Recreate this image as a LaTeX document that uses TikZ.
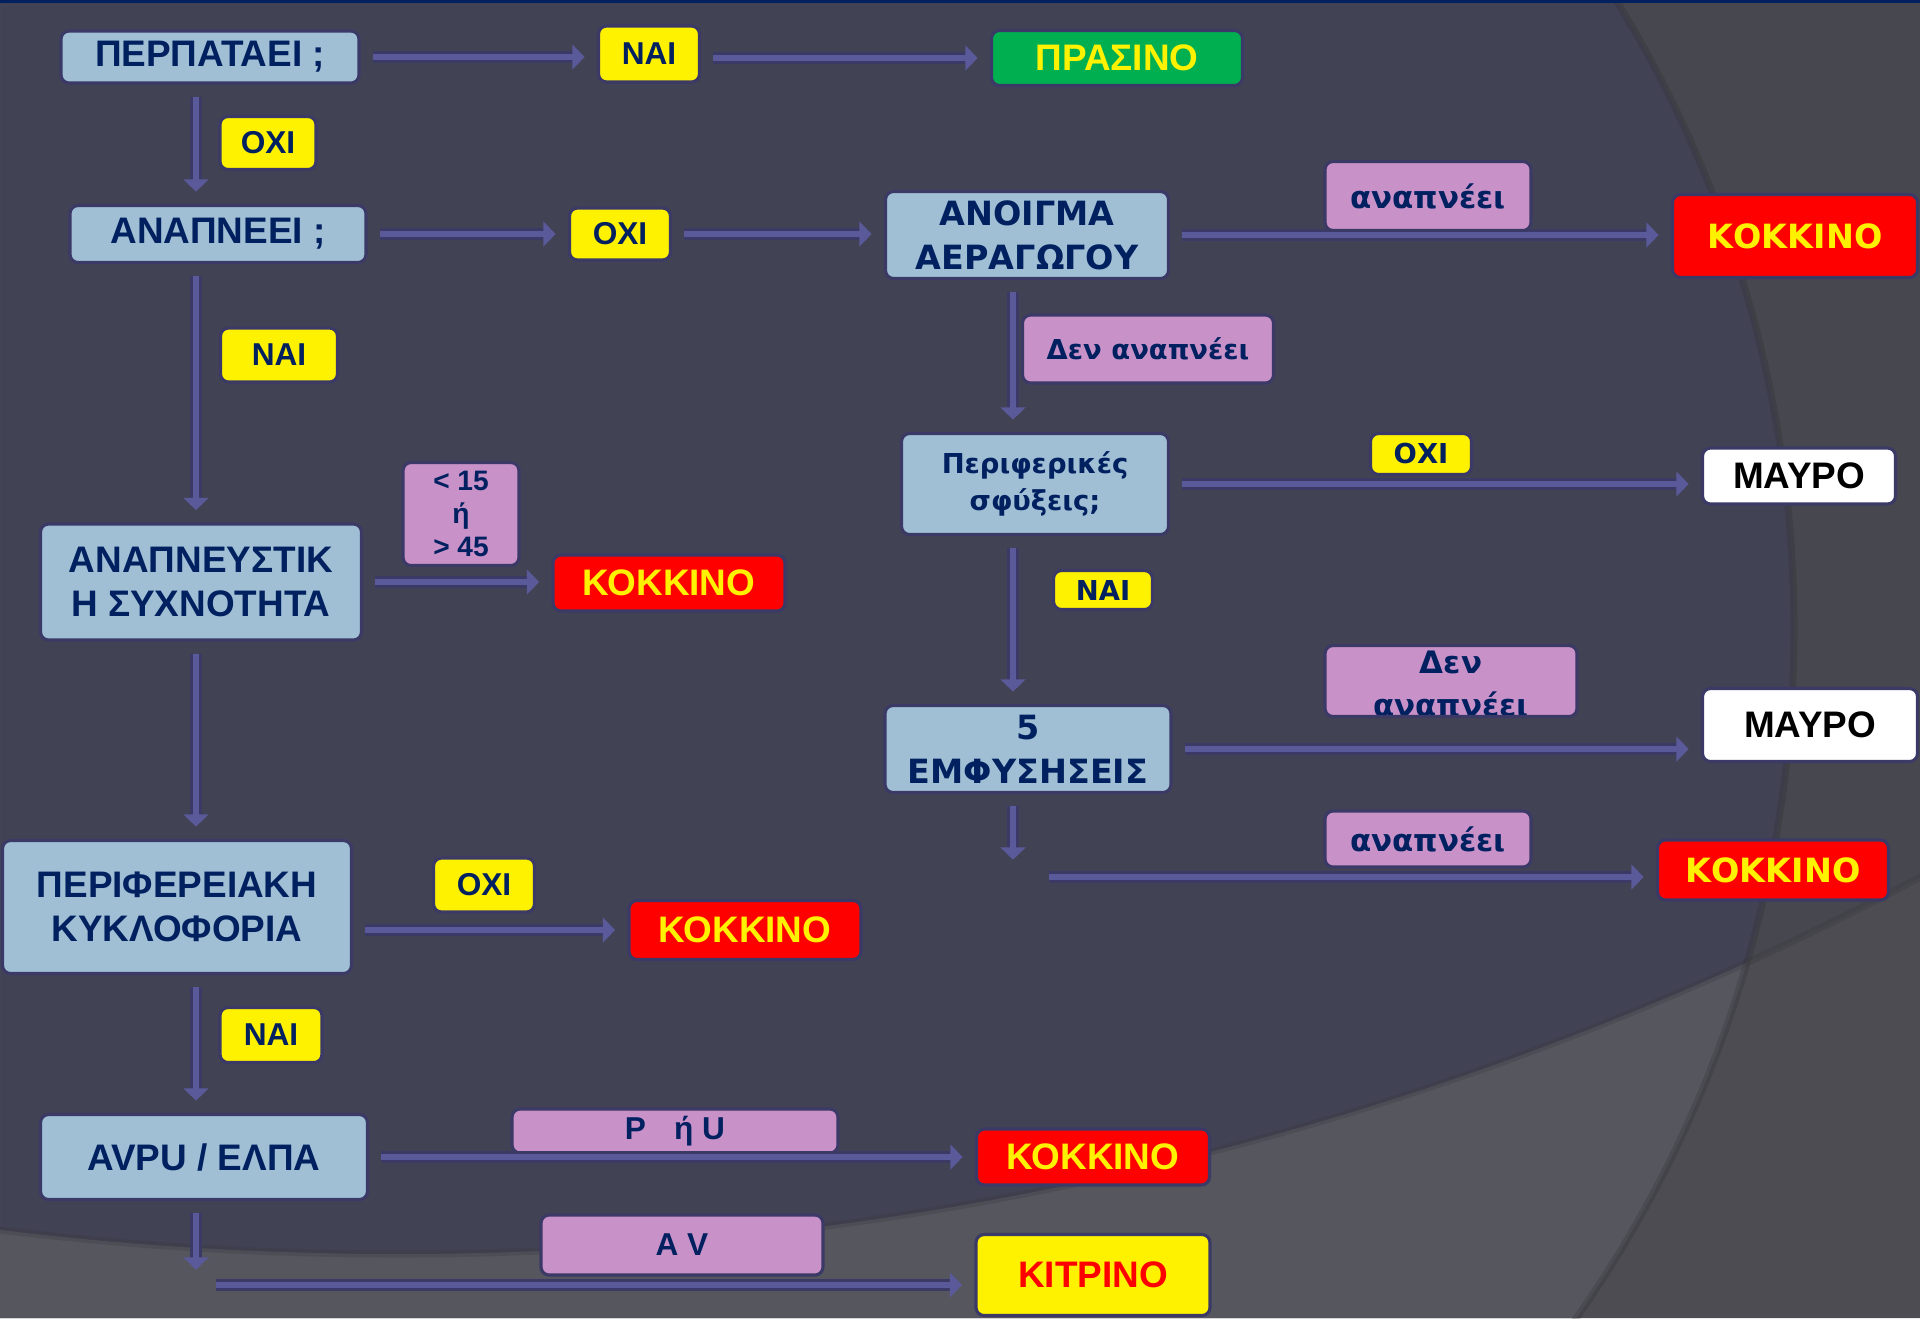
\documentclass[tikz,border=0pt]{standalone}
\usepackage{fontspec}
\setmainfont{Liberation Sans}
\newfontfamily\vfont{DejaVu Sans}
\usetikzlibrary{arrows.meta}

\definecolor{navy}{HTML}{002060}
\definecolor{qblue}{HTML}{A0BFD5}
\definecolor{pinkc}{HTML}{C891C8}
\definecolor{rim}{HTML}{3B3A66}
\definecolor{linec}{HTML}{5A5A9A}
\definecolor{bgin}{HTML}{424255}
\definecolor{bgout}{HTML}{47474F}
\definecolor{bglow}{HTML}{56565F}
\definecolor{bglowout}{HTML}{4C4C52}
\definecolor{grn}{HTML}{00B050}

\newcommand\lbig{\fontsize{10.5}{12.7}\selectfont\bfseries}
\newcommand\lsmall{\fontsize{9}{11}\selectfont\bfseries}
\newcommand\lrate{\fontsize{8}{9.4}\selectfont\bfseries}
\newcommand\vbig{\vfont\fontsize{9.5}{12.5}\selectfont\bfseries}
\newcommand\vmid{\vfont\fontsize{7.8}{10.5}\selectfont\bfseries}
\newcommand\vsmall{\vfont\fontsize{8.8}{12.2}\selectfont\bfseries}
\newcommand\vtiny{\vfont\fontsize{7.8}{9}\selectfont\bfseries}

\begin{document}
\begin{tikzpicture}[x=1cm, y=-1cm,
  box/.style={draw=rim, line width=0.9pt, rounded corners=0.08cm, inner sep=0pt, align=center, text=navy},
  sz/.style 2 args={minimum width=#1cm, minimum height=#2cm},
  qbox/.style={box, fill=qblue, font=\lbig},
  rqbox/.style={box, fill=qblue, font=\vbig},
  yes/.style={box, fill=yellow, font=\lsmall},
  ryes/.style={box, fill=yellow, font=\vtiny},
  cond/.style={box, fill=pinkc, font=\vsmall},
  redres/.style={box, fill=red, text=yellow, font=\lbig},
  rredres/.style={box, fill=red, text=yellow, font=\vbig},
  blackres/.style={box, fill=white, text=black, font=\lbig},
  arr/.style={draw=linec, line width=1.5pt, shorten <=3.5pt, shorten >=3.5pt,
    -{Triangle[length=3.5pt,width=7pt]},
    preaction={draw=rim, line width=3.2pt, -, shorten >=5.5pt}}]
  \useasboundingbox (0,0) rectangle (19.2,13.18);
  \fill[bgout] (0,0) rectangle (19.2,13.18);
  \fill[bglowout, even odd rule] (0,0) rectangle (19.2,13.18) (3.98,-20.04) circle (32.58);
  \begin{scope}
    \clip (5.95,6.29) circle (11.99);
    \fill[bgin] (0,0) rectangle (19.2,13.18);
    \fill[bglow, even odd rule] (0,0) rectangle (19.2,13.18) (3.98,-20.04) circle (32.58);
  \end{scope}
  \draw[black!40!bgout, line width=2pt, opacity=0.25] (5.95,6.29) circle (11.99);
  \draw[black!40!bglow, line width=2pt, opacity=0.25] (3.98,-20.04) circle (32.58);
  \draw[navy, line width=1pt] (0,0.01) -- (19.2,0.01);

  \coordinate (lcol) at (1.96,0);
  \coordinate (rcol) at (10.13,0);
  \coordinate (avdown) at (1.96,12.82);
  \coordinate (avturn) at (2.04,12.85);
  \coordinate (emfdown) at (10.13,8.72);
  \coordinate (emfturn) at (10.37,8.77);

  \node[qbox, sz={2.98}{0.52}] (perpat) at (2.10,0.57) {ΠΕΡΠΑΤΑΕΙ ;};
  \node[qbox, sz={2.96}{0.57}] (anapnei) at (2.18,2.34) {ΑΝΑΠΝΕΕΙ ;};
  \node[qbox, sz={3.21}{1.16}] (syxn) at (2.01,5.82) {ΑΝΑΠΝΕΥΣΤΙΚ\\Η ΣΥΧΝΟΤΗΤΑ};
  \node[qbox, sz={3.49}{1.33}] (perif) at (1.77,9.07) {ΠΕΡΙΦΕΡΕΙΑΚΗ\\ΚΥΚΛΟΦΟΡΙΑ};
  \node[qbox, sz={3.27}{0.85}] (avpu) at (2.04,11.57) {AVPU / ΕΛΠΑ};
  \node[rqbox, sz={2.83}{0.87}] (anoigma) at (10.27,2.35) {ΑΝΟΙΓΜΑ\\ΑΕΡΑΓΩΓΟΥ};
  \node[rqbox, sz={2.67}{1.01}, font=\vmid] (sfyx) at (10.35,4.84) {Περιφερικές\\σφύξεις;};
  \node[rqbox, sz={2.86}{0.87}] (emf) at (10.28,7.49) {5\\ΕΜΦΥΣΗΣΕΙΣ};

  \node[yes, sz={1.01}{0.56}] (naiA) at (6.49,0.54) {ΝΑΙ};
  \node[yes, sz={0.96}{0.53}] (oxiA) at (2.68,1.43) {ΟΧΙ};
  \node[yes, sz={1.01}{0.52}] (oxiB) at (6.20,2.34) {ΟΧΙ};
  \node[yes, sz={1.17}{0.54}] (naiB) at (2.79,3.55) {ΝΑΙ};
  \node[ryes, sz={1.01}{0.41}] (oxiC) at (14.21,4.54) {ΟΧΙ};
  \node[ryes, sz={0.99}{0.39}] (naiC) at (11.03,5.90) {ΝΑΙ};
  \node[yes, sz={1.01}{0.54}] (oxiD) at (4.84,8.85) {ΟΧΙ};
  \node[yes, sz={1.02}{0.55}] (naiD) at (2.71,10.35) {ΝΑΙ};

  \node[cond, sz={2.06}{0.69}] (anapA) at (14.28,1.96) {αναπνέει};
  \node[cond, sz={2.51}{0.68}, font=\vmid] (denA) at (11.48,3.49) {Δεν αναπνέει};
  \node[cond, sz={1.16}{1.03}, font=\lrate] (rate) at (4.61,5.14) {< 15\\ή\\> 45};
  \node[cond, sz={2.52}{0.71}, path picture={
    \node[font=\vsmall, text=navy, align=center] at ([yshift=-0.03cm]path picture bounding box.center) {Δεν\\αναπνέει};}] (denB) at (14.51,6.81) {};
  \node[cond, sz={2.06}{0.56}] (anapB) at (14.28,8.39) {αναπνέει};
  \node[cond, sz={3.26}{0.44}, font=\lsmall] (pu) at (6.75,11.31) {P\hspace{0.28cm}ή U};
  \node[cond, sz={2.82}{0.60}, font=\lsmall] (av) at (6.82,12.45) {A V};

  \node[box, fill=grn, text=yellow, font=\lbig, sz={2.51}{0.55}] (prasino) at (11.17,0.58) {ΠΡΑΣΙΝΟ};
  \node[rredres, sz={2.45}{0.83}] (kokA) at (17.95,2.36) {ΚΟΚΚΙΝΟ};
  \node[redres, sz={2.32}{0.56}] (kokB) at (6.69,5.83) {ΚΟΚΚΙΝΟ};
  \node[blackres, sz={1.93}{0.56}] (mavroA) at (17.99,4.76) {ΜΑΥΡΟ};
  \node[blackres, sz={2.15}{0.73}] (mavroB) at (18.10,7.25) {ΜΑΥΡΟ};
  \node[rredres, sz={2.31}{0.60}] (kokC) at (17.73,8.70) {ΚΟΚΚΙΝΟ};
  \node[redres, sz={2.32}{0.59}] (kokD) at (7.45,9.30) {ΚΟΚΚΙΝΟ};
  \node[redres, sz={2.33}{0.56}] (kokE) at (10.93,11.57) {ΚΟΚΚΙΝΟ};
  \node[box, fill=yellow, text=red, font=\lbig, sz={2.34}{0.81}] (kitrino) at (10.93,12.75) {ΚΙΤΡΙΝΟ};

  \draw[arr] (perpat.east) -- (perpat.east -| naiA.west);
  \draw[arr] (prasino.west -| naiA.east) -- (prasino.west);
  \draw[arr] (perpat.south -| lcol) -- (anapnei.north -| lcol);
  \draw[arr] (anapnei.east) -- (anapnei.east -| oxiB.west);
  \draw[arr] (oxiB.east) -- (oxiB.east -| anoigma.west);
  \draw[arr] (anapnei.south -| lcol) -- (syxn.north -| lcol);
  \draw[arr] (syxn.east) -- (syxn.east -| kokB.west);
  \draw[arr] (syxn.south -| lcol) -- (perif.north -| lcol);
  \draw[arr] (kokD.west -| perif.east) -- (kokD.west);
  \draw[arr] (perif.south -| lcol) -- (avpu.north -| lcol);
  \draw[arr] (avpu.east) -- (avpu.east -| kokE.west);
  \draw[arr] (avpu.south -| lcol) -- (avdown);
  \draw[arr] (avturn) -- (avturn -| kitrino.west);
  \draw[arr] (anoigma.east) -- (anoigma.east -| kokA.west);
  \draw[arr] (anoigma.south -| rcol) -- (sfyx.north -| rcol);
  \draw[arr] (sfyx.east) -- (sfyx.east -| mavroA.west);
  \draw[arr] (sfyx.south -| rcol) -- (emf.north -| rcol);
  \draw[arr] (emf.east) -- (emf.east -| mavroB.west);
  \draw[arr] (emf.south -| rcol) -- (emfdown);
  \draw[arr] (emfturn) -- (emfturn -| kokC.west);
\end{tikzpicture}
\end{document}
